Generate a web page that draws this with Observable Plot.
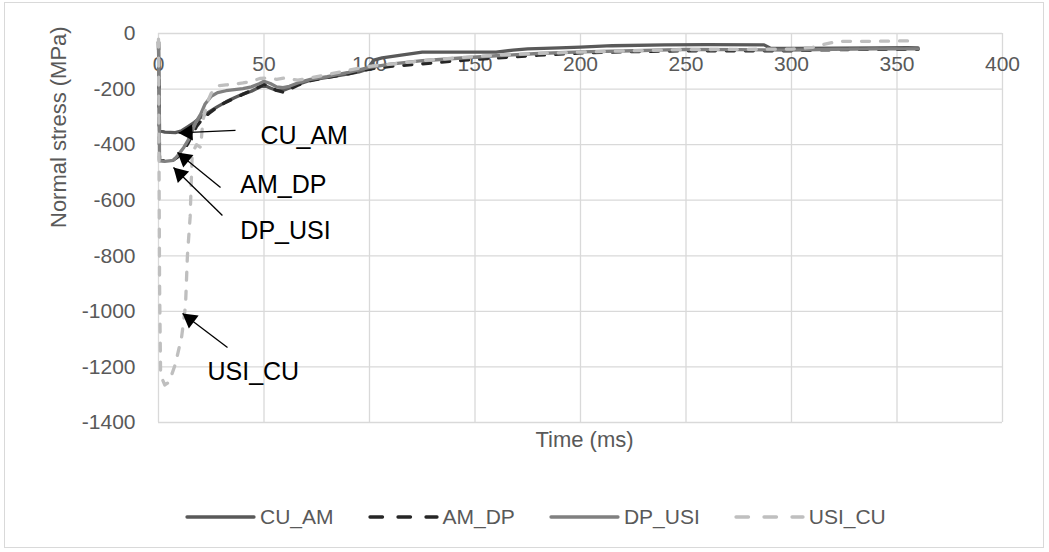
<!DOCTYPE html>
<html>
<head>
<meta charset="utf-8">
<script src="https://cdn.jsdelivr.net/npm/d3@7"></script>
<script src="https://cdn.jsdelivr.net/npm/@observablehq/plot@0.6"></script>
<style>
  html, body { margin: 0; padding: 0; background: #fff; }
  #wrap { position: relative; width: 1049px; height: 552px; font-family: "Liberation Sans", Arial, sans-serif; }
  #border { position: absolute; left: 4px; top: 2px; width: 1040px; height: 546px; border: 1px solid #d9d9d9; box-sizing: border-box; pointer-events: none; }
  #legend { position: absolute; left: 185px; top: 505px; display: flex; align-items: center; gap: 34px; font-size: 21px; color: #595959; }
  .item { display: flex; align-items: center; gap: 4px; }
</style>
</head>
<body>
<div id="wrap">
  <div id="border"></div>
  <div id="chart"></div>
  <div id="legend"></div>
</div>
<script>
// ---------- data ----------
const seriesNames = ["CU_AM", "AM_DP", "DP_USI", "USI_CU"];
const seriesColors = ["#595959", "#262626", "#808080", "#bfbfbf"];
const seriesDashed = [false, true, false, true];

const CU_AM = [[0,-30],[0.5,-350],[3,-355],[8,-357],[11,-350],[14,-335],[17,-320],[20,-302],[24,-282],[28,-263],[32,-246],[36,-231],[40,-218],[44,-208],[47,-196],[50,-186],[53,-196],[56,-205],[59,-205],[62,-196],[66,-183],[72,-168],[80,-158],[88,-148],[95,-138],[99,-128],[102,-96],[106,-88],[115,-78],[125,-67],[140,-67],[160,-67],[168,-60],[175,-55],[190,-52],[200,-49],[215,-44],[240,-41],[260,-40],[287,-41],[290,-53],[300,-54],[320,-53],[340,-52],[355,-51],[360,-52]];
const AM_DP = [[0,-30],[0.5,-455],[3,-458],[7,-455],[9,-445],[12,-420],[14,-395],[16,-365],[18,-335],[20,-315],[24,-287],[28,-264],[32,-247],[36,-233],[40,-219],[44,-205],[48,-191],[50,-183],[53,-193],[56,-205],[59,-211],[62,-201],[66,-186],[72,-170],[80,-158],[90,-145],[100,-128],[110,-118],[120,-112],[130,-106],[145,-96],[160,-88],[180,-78],[200,-70],[220,-66],[250,-62],[280,-62],[300,-62],[320,-58],[340,-57],[360,-57]];
const DP_USI = [[0,-30],[0.5,-458],[3,-460],[7,-457],[9,-440],[12,-410],[14,-385],[16,-350],[18,-315],[20,-290],[22,-255],[25,-226],[28,-213],[32,-206],[36,-202],[40,-198],[44,-192],[48,-180],[50,-172],[53,-180],[56,-192],[59,-195],[62,-190],[66,-178],[72,-165],[80,-155],[90,-140],[100,-122],[110,-110],[125,-98],[140,-90],[160,-80],[180,-72],[200,-66],[225,-62],[250,-57],[275,-58],[300,-60],[320,-57],[340,-55],[360,-55]];
const USI_CU = [[0,-20],[0.5,-900],[1,-1230],[3,-1265],[5,-1255],[8,-1190],[11,-1090],[12.8,-980],[13.7,-800],[15,-660],[15.5,-540],[16,-430],[18,-400],[20,-410],[21,-315],[23,-250],[25,-215],[28,-188],[32,-185],[36,-182],[40,-178],[44,-172],[48,-162],[52,-160],[56,-165],[60,-160],[66,-168],[72,-160],[80,-148],[90,-132],[100,-118],[110,-110],[125,-98],[140,-88],[160,-78],[180,-72],[200,-67],[225,-62],[250,-58],[275,-57],[300,-56],[310,-50],[315,-40],[322,-28],[340,-28],[360,-26]];
const seriesData = [CU_AM, AM_DP, DP_USI, USI_CU];

const xTicks = [0, 50, 100, 150, 200, 250, 300, 350, 400];
const yTicks = [0, -200, -400, -600, -800, -1000, -1200, -1400];
const xTitle = "Time (ms)";
const yTitle = "Normal stress (MPa)";

// annotations (data coordinates)
const annLabels = ["CU_AM", "AM_DP", "DP_USI", "USI_CU"];
const annFrom = [[36.5,-349],[29.4,-554],[30.3,-655],[32.7,-1130]];
const annTip  = [[9.5,-358],[9.0,-428],[7.1,-482],[11.4,-1008]];
const annText = [[48.3,-369],[38.8,-547],[38.8,-709],[23.2,-1220]];

// ---------- layout ----------
const W = 1049, H = 470;
const mL = 158, mR = 47, mT = 33, mB = 48;
const xDomain = [0, 400], yDomain = [-1400, 0];

const xs = Plot.scale({x: {domain: xDomain, range: [mL, W - mR]}});
const ys = Plot.scale({y: {domain: yDomain, range: [H - mB, mT]}});

// arrowheads (filled triangles) computed in screen space
const headR = 6;
const headY = Math.sqrt(Math.PI * headR * headR / (Math.sqrt(3) * 3));
const heads = annTip.map((tip, i) => {
  const fx = xs.apply(annFrom[i][0]), fy = ys.apply(annFrom[i][1]);
  const tx = xs.apply(tip[0]), ty = ys.apply(tip[1]);
  const len = Math.hypot(tx - fx, ty - fy);
  const dx = (tx - fx) / len, dy = (ty - fy) / len;
  const cx = tx - dx * 2 * headY, cy = ty - dy * 2 * headY;
  return {x: xs.invert(cx), y: ys.invert(cy), rot: Math.atan2(dx, -dy) * 180 / Math.PI};
});

const marks = [
  Plot.ruleX(xTicks, {stroke: "#d9d9d9", strokeWidth: 1.3}),
  Plot.ruleY(yTicks, {stroke: "#d9d9d9", strokeWidth: 1.3}),
  Plot.text(xTicks, {x: d => d, y: 0, dy: 31, text: d => String(d), fill: "#595959", fontSize: 21}),
  Plot.text(yTicks, {x: 0, y: d => d, dx: -23, textAnchor: "end", text: d => String(d), fill: "#595959", fontSize: 21}),
  Plot.text([xTitle], {frameAnchor: "bottom", dy: 24, dx: 4, text: d => d, fill: "#595959", fontSize: 22}),
  Plot.text([yTitle], {frameAnchor: "left", dx: -100, rotate: -90, text: d => d, fill: "#595959", fontSize: 22})
];
seriesData.forEach((s, i) => {
  marks.push(Plot.line(s, {
    x: d => d[0], y: d => d[1],
    stroke: seriesColors[i], strokeWidth: 3.3,
    strokeDasharray: seriesDashed[i] ? "8,11" : null,
    strokeLinecap: "round", strokeLinejoin: "round", curve: "linear"
  }));
});
marks.push(
  Plot.link(annLabels.map((_, i) => i), {
    x1: i => annFrom[i][0], y1: i => annFrom[i][1],
    x2: i => annTip[i][0], y2: i => annTip[i][1],
    stroke: "#000", strokeWidth: 1.3
  }),
  Plot.dot(heads, {x: "x", y: "y", rotate: "rot", symbol: "triangle", r: headR, fill: "#000", stroke: "none"}),
  Plot.text(annLabels.map((_, i) => i), {
    x: i => annText[i][0], y: i => annText[i][1], text: i => annLabels[i],
    textAnchor: "start", fill: "#000", fontSize: 25
  })
);

const chart = Plot.plot({
  width: W, height: H,
  marginLeft: mL, marginRight: mR, marginTop: mT, marginBottom: mB,
  x: {domain: xDomain, axis: null},
  y: {domain: yDomain, axis: null},
  style: {fontFamily: "Liberation Sans, Arial, sans-serif", background: "transparent", overflow: "visible"},
  marks
});
document.getElementById("chart").appendChild(chart);

// legend
const legend = document.getElementById("legend");
seriesNames.forEach((name, i) => {
  const item = document.createElement("div");
  item.className = "item";
  const ns = "http://www.w3.org/2000/svg";
  const sw = document.createElementNS(ns, "svg");
  sw.setAttribute("width", 71); sw.setAttribute("height", 12);
  const ln = document.createElementNS(ns, "line");
  ln.setAttribute("x1", 2); ln.setAttribute("x2", 69);
  ln.setAttribute("y1", 6); ln.setAttribute("y2", 6);
  ln.setAttribute("stroke", seriesColors[i]);
  ln.setAttribute("stroke-width", 3.3);
  ln.setAttribute("stroke-linecap", "round");
  if (seriesDashed[i]) ln.setAttribute("stroke-dasharray", "12.5,15.5");
  sw.appendChild(ln);
  const tx = document.createElement("span");
  tx.textContent = name;
  item.appendChild(sw); item.appendChild(tx);
  legend.appendChild(item);
});
</script>
</body>
</html>
